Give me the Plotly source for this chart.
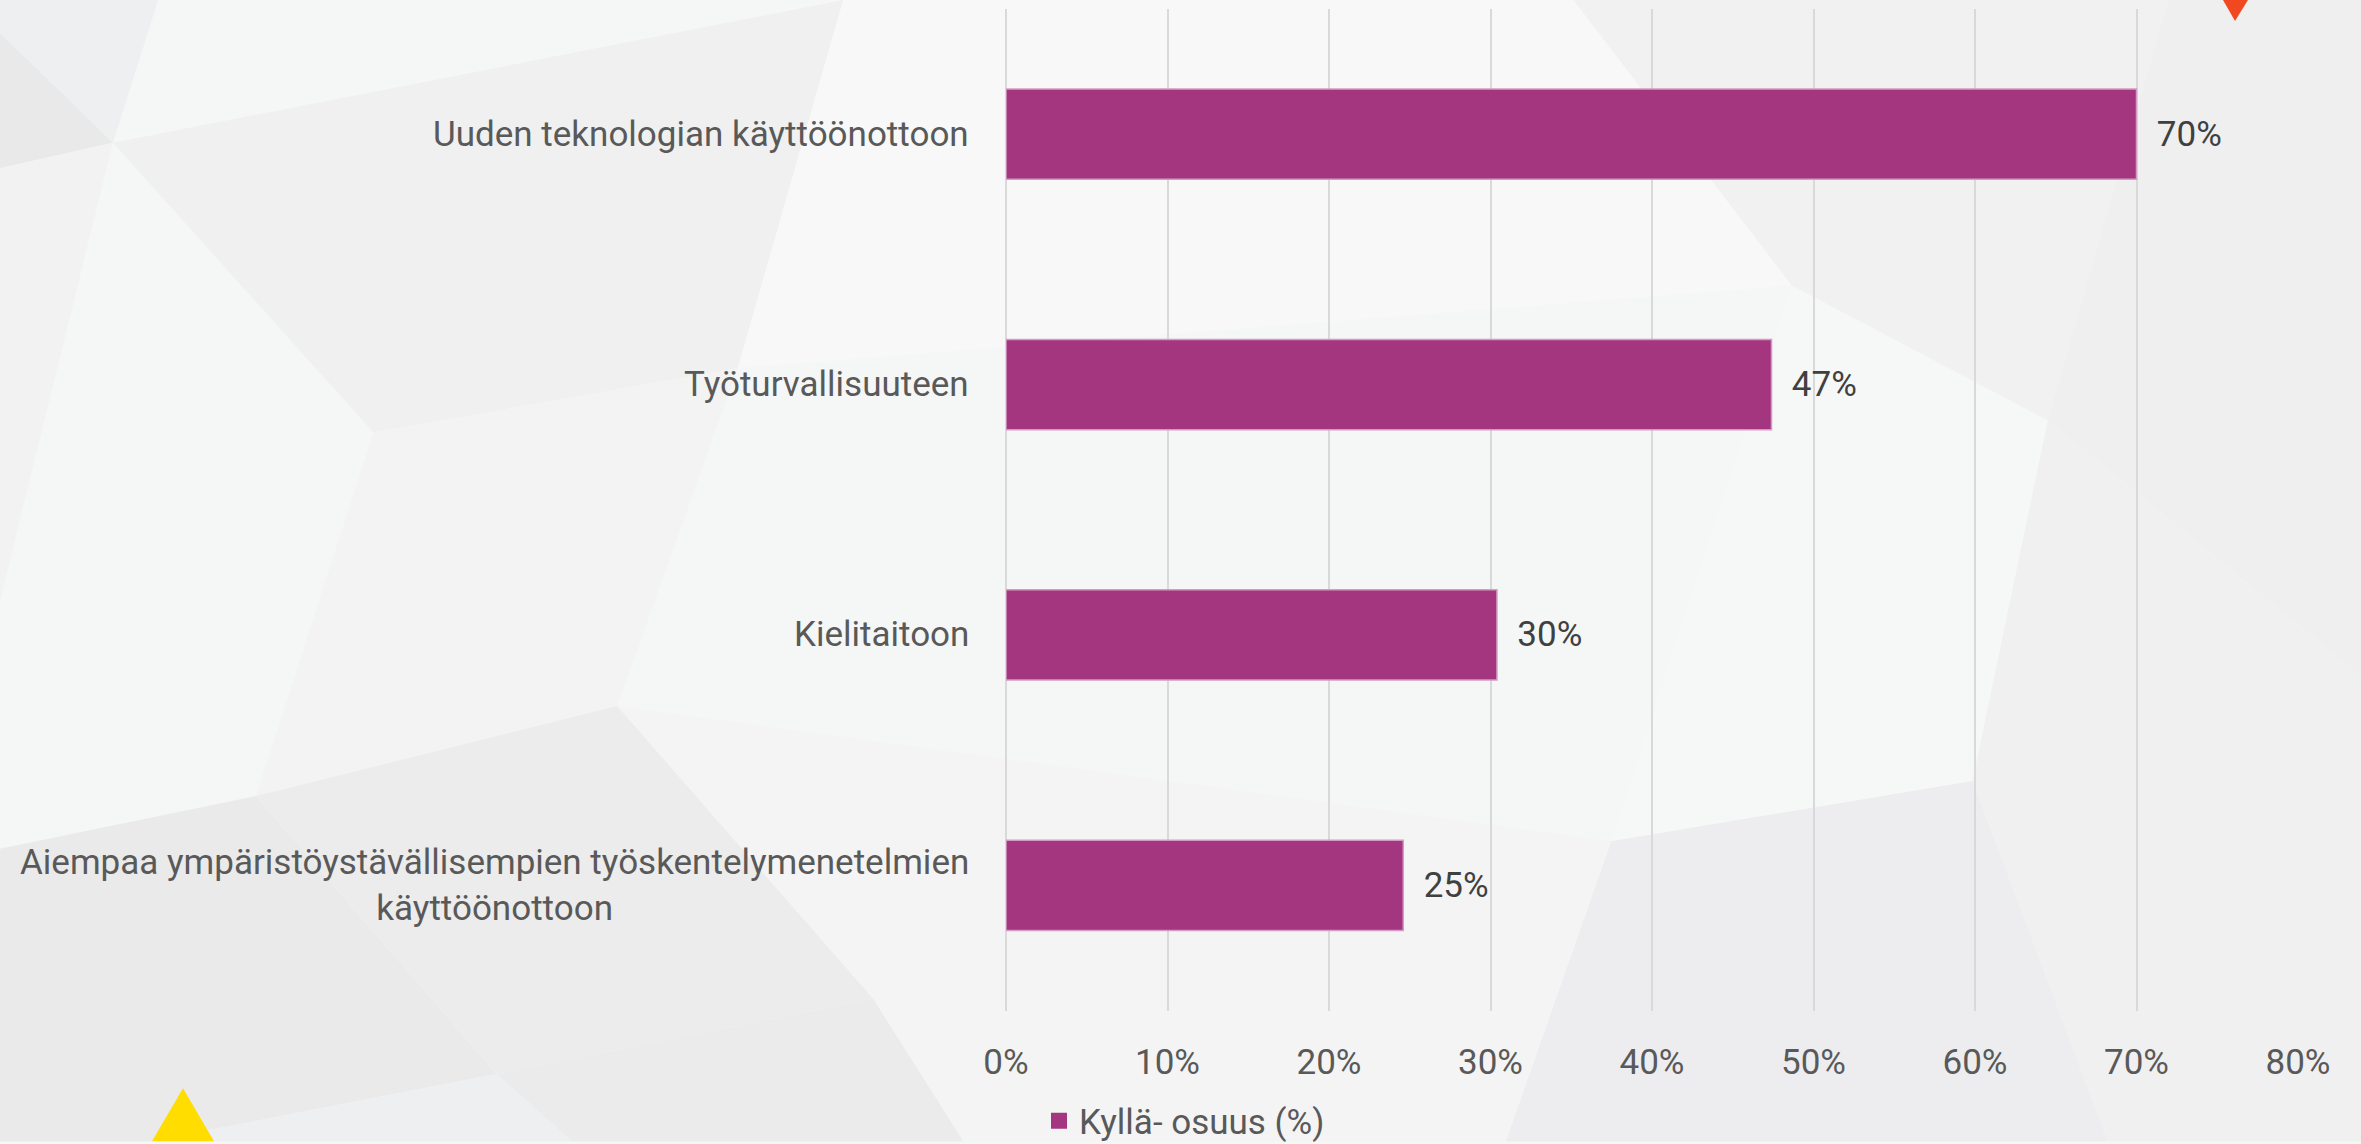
import plotly.graph_objects as go

categories = [
    "Uuden teknologian käyttöönottoon",
    "Työturvallisuuteen",
    "Kielitaitoon",
    "Aiempaa ympäristöystävällisempien työskentelymenetelmien<br>käyttöönottoon",
]
values = [0.70, 0.474, 0.304, 0.246]
x_ticks = [0, 0.1, 0.2, 0.3, 0.4, 0.5, 0.6, 0.7, 0.8]
x_tick_labels = ["0%", "10%", "20%", "30%", "40%", "50%", "60%", "70%", "80%"]
series_name = "Kyllä- osuus (%)"

W, H = 2361, 1144
L, R, T, B = 1006, 63, 9, 131
PW, PH = W - L - R, H - T - B
S = 2361 / 1568  # shrunk-to-full factor for background decoration


def xp(px):
    return (px - L) / PW


def yp(py):
    return (H - B - py) / PH


def poly(pts, scale=S):
    d = "M " + " L ".join(f"{xp(x * scale):.5f},{yp(y * scale):.5f}" for x, y in pts) + " Z"
    return d


bg_polys = [
    ([(0, 0), (105, 0), (75, 95), (0, 22)], "#eeeff0"),
    ([(0, 22), (75, 95), (0, 112)], "#e9e9ea"),
    ([(0, 112), (75, 95), (0, 400)], "#f2f2f2"),
    ([(75, 95), (560, 0), (490, 245), (248, 288)], "#f0f0f0"),
    ([(248, 288), (490, 245), (410, 470), (170, 530)], "#f3f3f3"),
    ([(0, 565), (170, 530), (330, 715), (100, 760), (0, 760)], "#eaeaea"),
    ([(100, 760), (330, 715), (380, 760)], "#eeeff1"),
    ([(170, 530), (410, 470), (580, 665), (330, 715)], "#ececec"),
    ([(330, 715), (580, 665), (640, 760), (380, 760)], "#ebebeb"),
    ([(560, 0), (1045, 0), (1190, 190), (490, 245)], "#f8f8f8"),
    ([(1045, 0), (1440, 0), (1360, 280), (1190, 190)], "#f1f1f1"),
    ([(1440, 0), (1568, 0), (1568, 450), (1360, 280)], "#efefef"),
    ([(1190, 190), (1360, 280), (1310, 520), (1070, 560)], "#f6f7f7"),
    ([(1070, 560), (1310, 520), (1400, 760), (1000, 760)], "#ededef"),
    ([(1360, 280), (1568, 450), (1568, 760), (1400, 760), (1310, 520)], "#f0f0f0"),
    ([(410, 470), (1070, 560), (1000, 760), (640, 760), (580, 665)], "#f4f4f4"),
]

shapes = []
for pts, col in bg_polys:
    shapes.append(dict(type="path", path=poly(pts), xref="paper", yref="paper",
                       fillcolor=col, line=dict(width=0), layer="below"))
# accent triangles
shapes.append(dict(type="path", xref="paper", yref="paper", layer="below",
                   path=poly([(152, 1144), (183, 1091), (214, 1144)], scale=1),
                   fillcolor="#FFDD00", line=dict(width=0)))
shapes.append(dict(type="path", xref="paper", yref="paper", layer="below",
                   path=poly([(2223, 0), (2248, 0), (2235, 21)], scale=1),
                   fillcolor="#F24822", line=dict(width=0)))

FONT = "Roboto"
FS = 35
fig = go.Figure()
fig.add_trace(go.Bar(
    y=categories, x=values, orientation="h",
    marker=dict(color="#A3367F", line=dict(color="#D49CC4", width=1.5)),
    texttemplate="\u00a0\u00a0%{x:.0%}", textposition="outside",
    textfont=dict(family=FONT, size=FS, color="#404040"),
    cliponaxis=False, showlegend=False, name=series_name,
))
fig.add_trace(go.Scatter(
    x=[None], y=[None], mode="markers", name=series_name,
    marker=dict(symbol="square", size=20, color="#A3367F"),
    showlegend=True,
))

annotations = []
for c in categories:
    annotations.append(dict(
        x=0, y=c, xref="x", yref="y", text=c, showarrow=False,
        xanchor="right", yanchor="middle", align="center", xshift=-35,
        font=dict(family=FONT, size=FS, color="#595959"),
    ))

fig.update_layout(
    width=W, height=H,
    margin=dict(l=L, r=R, t=T, b=B, pad=0),
    paper_bgcolor="#f5f6f6", plot_bgcolor="rgba(0,0,0,0)",
    bargap=0.64,
    shapes=shapes, annotations=annotations,
    font=dict(family=FONT, size=FS, color="#595959"),
    legend=dict(orientation="h", xref="container", yref="container",
                x=1039 / W, xanchor="left", y=(H - 1121) / H, yanchor="middle",
                itemwidth=30, bgcolor="rgba(0,0,0,0)",
                font=dict(family=FONT, size=FS, color="#595959")),
    xaxis=dict(range=[0, 0.8], tickvals=x_ticks, ticktext=x_tick_labels,
               showgrid=True, gridcolor="#d9d9d9", gridwidth=1.5,
               zeroline=True, zerolinecolor="#d9d9d9", zerolinewidth=1.5,
               showline=False, ticks="", ticklabelstandoff=27,
               tickfont=dict(family=FONT, size=FS, color="#595959")),
    yaxis=dict(categoryorder="array", categoryarray=categories, autorange="reversed",
               showticklabels=False, showgrid=False, zeroline=False, showline=False),
)

fig.write_html("out.html")
